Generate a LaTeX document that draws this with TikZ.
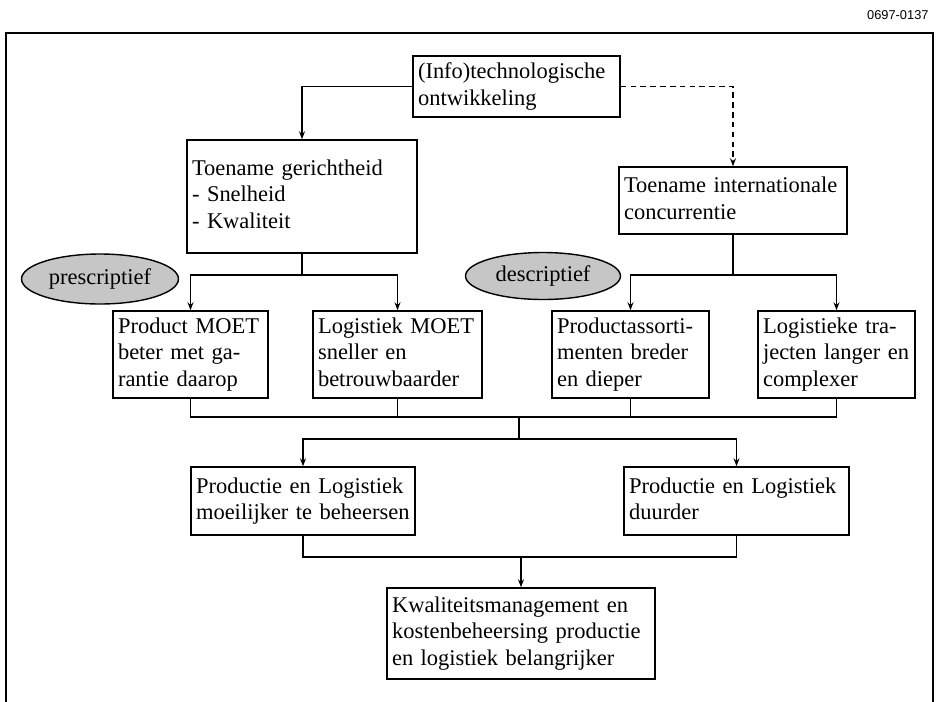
\documentclass[tikz,border=0pt]{standalone}
\usepackage{fontspec}
\setmainfont{Liberation Serif}
\setsansfont{Liberation Sans}
\usepackage{tikz}
\usetikzlibrary{arrows.meta, shapes.geometric}

\begin{document}
\begin{tikzpicture}[x=0.02cm, y=-0.02cm, line width=0.7pt, >={Stealth[length=4.5pt, width=3.4pt]},
    box/.style={draw, line width=0.9pt, rectangle, align=left, inner xsep=0.1cm, inner ysep=0pt,
        font=\fontsize{12.8}{15.1}\selectfont, execute at begin node=\strut, execute at end node=\strut},
    tag/.style={draw, line width=0.8pt, ellipse, fill=gray!45, inner sep=0pt,
        font=\fontsize{12.8}{15.1}\selectfont}]
        \useasboundingbox (0,0) rectangle (937,701);

        % Frame and figure number
        \draw[line width=0.9pt] (6,702) -- (6,33) -- (933,33) -- (933,702);
        \node[font=\sffamily\fontsize{7.3}{8}\selectfont, anchor=east] (nr) at (935,15) {0697-0137};

        % Nodes
        \node[box, text width=3.94cm, minimum height=1.22cm] (tech) at (516.5,86.5) {(Info)technologische\\ontwikkeling};
        \node[box, text width=4.40cm, minimum height=2.26cm] (ger) at (302,196.5) {Toename gerichtheid\\- Snelheid\\- Kwaliteit};
        \node[box, text width=4.36cm, minimum height=1.34cm] (conc) at (733,200.5) {Toename internationale\\concurrentie};

        \node[tag, minimum width=3.14cm, minimum height=1.0cm] (pres) at (100,279) {prescriptief};
        \node[tag, minimum width=3.10cm, minimum height=0.94cm] (desc) at (543,276) {descriptief};

        \node[box, text width=2.90cm, minimum height=1.74cm] (prod) at (190.5,354.5) {Product MOET\\beter met ga-\\rantie daarop};
        \node[box, text width=3.18cm, minimum height=1.74cm] (logi) at (397.5,354.5) {Logistiek MOET\\sneller en\\betrouwbaarder};
        \node[box, text width=2.94cm, minimum height=1.74cm] (ass) at (630.5,354.5) {Productassorti-\\menten breder\\en dieper};
        \node[box, text width=2.94cm, minimum height=1.74cm] (traj) at (836.5,354.5) {Logistieke tra-\\jecten langer en\\complexer};

        \node[box, text width=4.28cm, minimum height=1.36cm] (moeil) at (303,501) {Productie en Logistiek\\moeilijker te beheersen};
        \node[box, text width=4.30cm, minimum height=1.36cm] (duur) at (736.5,501) {Productie en Logistiek\\duurder};

        \node[box, text width=5.16cm, minimum height=1.82cm] (kwal) at (521,633.5) {Kwaliteitsmanagement en\\kostenbeheersing productie\\en logistiek belangrijker};

        % Split points
        \coordinate (gsplit) at (302,275);
        \coordinate (csplit) at (733,275);
        \coordinate (join) at (519,417);
        \coordinate (msplit) at (519,439);
        \coordinate (bjoin) at (521,557);

        % Directed edges
        \draw[->] (tech.west) -| (ger.north);
        \draw[->, dashed, dash pattern=on 3.2pt off 2.4pt] (tech.east) -| (conc.north);

        \draw (ger.south) -- (gsplit);
        \draw[->] (gsplit) -| (prod.north);
        \draw[->] (gsplit) -| (logi.north);
        \draw (conc.south) -- (csplit);
        \draw[->] (csplit) -| (ass.north);
        \draw[->] (csplit) -| (traj.north);

        \draw (prod.south) |- (join);
        \draw (traj.south) |- (join);
        \draw (logi.south) -- (logi.south |- join);
        \draw (ass.south) -- (ass.south |- join);
        \draw (join) -- (msplit);
        \draw[->] (msplit) -| (moeil.north);
        \draw[->] (msplit) -| (duur.north);

        \draw (moeil.south) |- (bjoin);
        \draw (duur.south) |- (bjoin);
        \draw[->] (bjoin) -- (bjoin |- kwal.north);
    \end{tikzpicture}
\end{document}
